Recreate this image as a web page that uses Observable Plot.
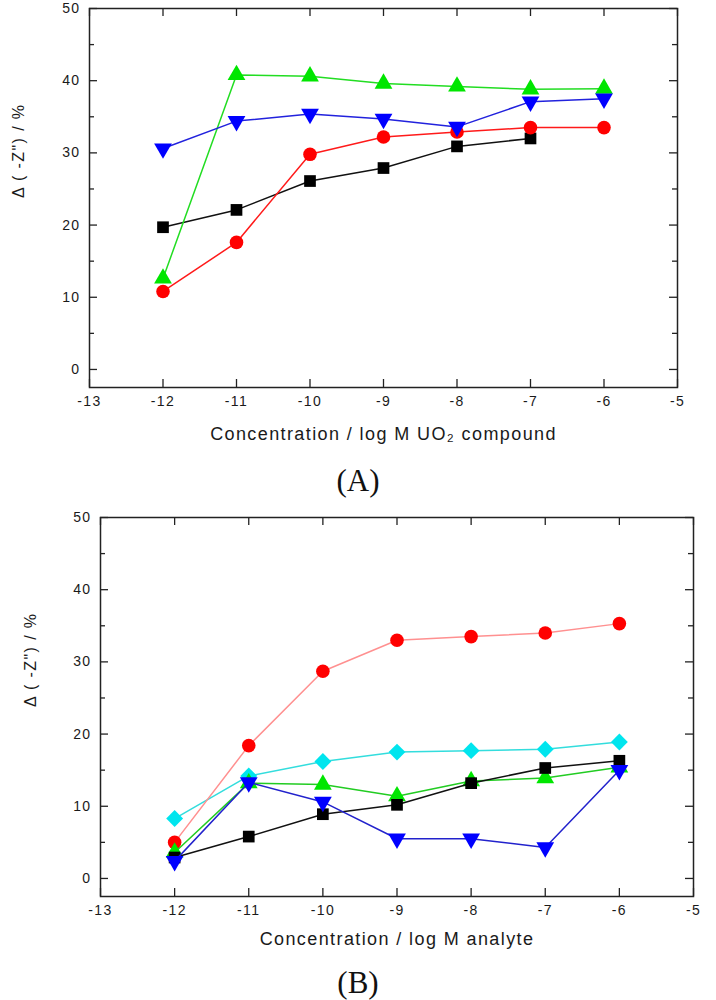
<!DOCTYPE html>
<html>
<head>
<meta charset="utf-8">
<script src="https://cdn.jsdelivr.net/npm/d3@7"></script>
<script src="https://cdn.jsdelivr.net/npm/@observablehq/plot@0.6"></script>
<style>
  body { margin: 0; background: #fff; font-family: "Liberation Sans", Arial, sans-serif; }
  .cap { width: 716px; text-align: center; font-family: "Liberation Serif", "Times New Roman", serif; font-size: 31px; color: #111; overflow: hidden; }
</style>
</head>
<body>
<div id="chart_a"></div>
<div class="cap" style="height:50px;line-height:52px">(A)</div>
<div id="chart_b"></div>
<div class="cap" style="height:44px;line-height:54px">(B)</div>
<script>
// log concentrations
const conc = [-12, -11, -10, -9, -8, -7, -6]
const xTicks = [-13, -12, -11, -10, -9, -8, -7, -6, -5]
const yMajor = [0, 10, 20, 30, 40, 50]
const yMinor = [5, 15, 25, 35, 45]

// panel A, UO2 compound
const aBlack = [19.7, 22.1, 26.1, 27.9, 30.9, 32.0]
const aRed = [10.8, 17.6, 29.8, 32.2, 32.9, 33.5, 33.5]
const aGreen = [12.6, 40.8, 40.6, 39.6, 39.2, 38.8, 38.9]
const aBlue = [30.6, 34.4, 35.4, 34.7, 33.6, 37.1, 37.5]

// panel B, analyte
const bCyan = [8.3, 14.2, 16.2, 17.5, 17.7, 17.9, 18.9]
const bRed = [5.0, 18.4, 28.7, 33.0, 33.5, 34.0, 35.3]
const bGreen = [3.6, 13.2, 13.0, 11.4, 13.5, 13.9, 15.4]
const bBlack = [2.9, 5.8, 8.9, 10.2, 13.2, 15.3, 16.3]
const bBlue = [2.4, 13.3, 10.6, 5.5, 5.5, 4.3, 15.0]

const yLabel = 'Δ ( -Z") / %'

// down-pointing triangle (not a built-in Plot symbol)
const triangleDown = {
  draw(context, size) {
    const s = Math.sqrt(3)
    const y = Math.sqrt(size / (s * 3))
    context.moveTo(0, y * 2)
    context.lineTo(-s * y, -y)
    context.lineTo(s * y, -y)
    context.closePath()
  }
}

function rows(ys) {
  return ys.map((v, i) => ({x: conc[i], y: v}))
}

function panel({series, xLabel, mLeft, mRight, mTop, mBottom, labelDy, yLabelDx}) {
  const W = 716
  const plotH = 379
  const fw = W - mLeft - mRight
  const tk = {stroke: "#222", strokeWidth: 1.3}
  const marks = [
    Plot.frame({stroke: "#222", strokeWidth: 1.5}),
    // inward ticks on all four sides
    Plot.tickY(yMajor, {y: d => d, insetRight: fw - 8, ...tk}),
    Plot.tickY(yMajor, {y: d => d, insetLeft: fw - 8, ...tk}),
    Plot.tickY(yMinor, {y: d => d, insetRight: fw - 5, ...tk}),
    Plot.tickY(yMinor, {y: d => d, insetLeft: fw - 5, ...tk}),
    Plot.tickX(xTicks, {x: d => d, insetTop: plotH - 8, ...tk}),
    Plot.tickX(xTicks, {x: d => d, insetBottom: plotH - 8, ...tk}),
    Plot.axisX(xTicks, {tickSize: 0, tickPadding: 9, fontSize: 14, fill: "#1a1a1a", tickFormat: d => String(d), label: null}),
    Plot.axisY(yMajor, {tickSize: 0, tickPadding: 9, fontSize: 14, fill: "#1a1a1a", tickFormat: d => String(d), label: null}),
    Plot.text([xLabel], {text: d => d, frameAnchor: "bottom", dy: labelDy, fontSize: 18, fill: "#1a1a1a"}),
    Plot.text([yLabel], {text: d => d, frameAnchor: "left", dx: yLabelDx, rotate: -90, fontSize: 16, fill: "#1a1a1a"})
  ]
  for (const s of series) {
    const data = rows(s.ys)
    marks.push(Plot.line(data, {x: "x", y: "y", stroke: s.line, strokeWidth: 1.5}))
    marks.push(Plot.dot(data, {x: "x", y: "y", symbol: s.symbol, fill: s.color, r: s.r, stroke: "none"}))
  }
  return Plot.plot({
    width: W,
    height: mTop + plotH + mBottom,
    marginLeft: mLeft,
    marginRight: mRight,
    marginTop: mTop,
    marginBottom: mBottom,
    style: {fontFamily: '"Liberation Sans", Arial, sans-serif', background: "#fff", letterSpacing: "1.4px"},
    x: {domain: [-13, -5]},
    y: {domain: [-2.5, 50]},
    marks
  })
}

const chartA = panel({
  xLabel: "Concentration / log M UO₂ compound",
  mLeft: 89, mRight: 39, mTop: 8, mBottom: 68,
  labelDy: 52, yLabelDx: -71,
  series: [
    {ys: aBlack, color: "#000", line: "#111", symbol: "square", r: 6.6},
    {ys: aRed, color: "#ff0000", line: "#ff1a1a", symbol: "circle", r: 6.8},
    {ys: aGreen, color: "#00e600", line: "#22dd22", symbol: "triangle", r: 6.6},
    {ys: aBlue, color: "#0000ff", line: "#2222dd", symbol: triangleDown, r: 6.6}
  ]
})
d3.select('#chart_a').append(() => chartA)

const chartB = panel({
  xLabel: "Concentration / log M analyte",
  mLeft: 100, mRight: 23, mTop: 12, mBottom: 60,
  labelDy: 48, yLabelDx: -70,
  series: [
    {ys: bCyan, color: "#00e5ee", line: "#33dddd", symbol: "diamond2", r: 7.6},
    {ys: bRed, color: "#ff0000", line: "#ff9090", symbol: "circle", r: 6.8},
    {ys: bGreen, color: "#00e600", line: "#22cc22", symbol: "triangle", r: 6.6},
    {ys: bBlack, color: "#000", line: "#111", symbol: "square", r: 6.6},
    {ys: bBlue, color: "#0000ff", line: "#2222cc", symbol: triangleDown, r: 6.6}
  ]
})
d3.select('#chart_b').append(() => chartB)
</script>
</body>
</html>
